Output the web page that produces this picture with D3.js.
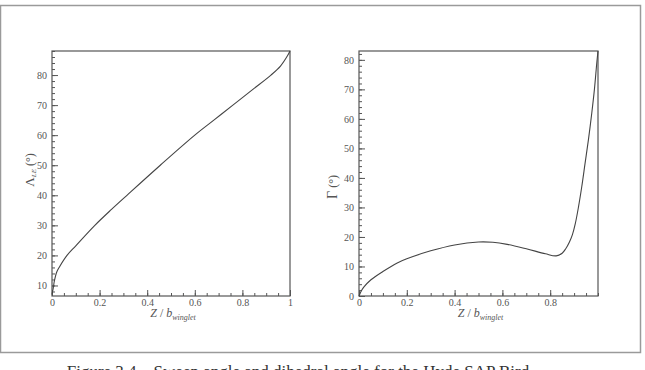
<!DOCTYPE html>
<html>
<head>
	<meta charset="utf-8">
	<title>Sweep and dihedral</title>
	<script src="https://cdn.jsdelivr.net/npm/d3@7"></script>
	<style>
		body { margin: 0; background: #fff; font-family: "Liberation Serif", "DejaVu Serif", serif; }
		svg text { font-family: "Liberation Serif", "DejaVu Serif", serif; }
	</style>
</head>
<body>
	<div id="chart"></div>
	<script>

		// data

		const sweepZ = [0, 0.005, 0.01, 0.02, 0.03, 0.063, 0.1, 0.18, 0.25, 0.315, 0.455, 0.6, 0.68, 0.76, 0.84, 0.92, 0.96, 0.99, 1];
		const sweepAngle = [7, 9, 11.5, 14.5, 16, 20, 23.2, 30, 35.3, 40, 50, 60, 65, 70, 75, 80, 83, 86.5, 88];

		const dihedralZ = [0, 0.01, 0.02, 0.05, 0.1, 0.16, 0.2, 0.3, 0.4, 0.5, 0.56, 0.62, 0.7, 0.78, 0.825, 0.85, 0.865, 0.88, 0.893, 0.905, 0.918, 0.932, 0.946, 0.96, 0.974, 0.985, 0.995, 1];
		const dihedralAngle = [0, 1.8, 3, 5.5, 8.3, 11.2, 12.6, 15.3, 17.3, 18.3, 18.2, 17.5, 16, 14.3, 13.6, 14.5, 16, 18.2, 20.8, 24.5, 30, 37, 45, 53, 62, 70, 79, 83];

		const sweepXTicks = [0, 0.2, 0.4, 0.6, 0.8, 1];
		const sweepYTicks = [10, 20, 30, 40, 50, 60, 70, 80];
		const dihedralXTicks = [0, 0.2, 0.4, 0.6, 0.8];
		const dihedralYTicks = [0, 10, 20, 30, 40, 50, 60, 70, 80];

		const caption = "Figure 3.4 – Sweep angle and dihedral angle for the Hyde SAP Bird";

		// layout

		const width = 645, height = 370;
		const ink = "#444", frameInk = "#555", labelInk = "#555";
		const serif = "'Liberation Serif', 'DejaVu Serif', serif";

		const svg = d3.select("#chart").append("svg")
			.attr("width", width)
			.attr("height", height);

		// outer frame
		svg.append("rect")
			.attr("x", 0.5).attr("y", 5.5)
			.attr("width", 640).attr("height", 347)
			.attr("fill", "none")
			.attr("stroke", "#9a9a9a")
			.attr("stroke-width", 1.5);

		function panel({ left, right, top, bottom, xDomain, yDomain, xTicks, yTicks, xs, ys, yLabel, yLabelX, yLabelY }) {
			const x = d3.scaleLinear(xDomain, [left, right]);
			const y = d3.scaleLinear(yDomain, [bottom, top]);
			const g = svg.append("g");

			// minor ticks
			const xMinor = d3.range(0, 1.0001, 0.05).filter(v => v >= xDomain[0] && v <= xDomain[1]);
			const yMinor = d3.range(0, 90, 2).filter(v => v >= yDomain[0] && v <= yDomain[1]);

			g.append("g")
				.attr("transform", `translate(0,${bottom})`)
				.call(d3.axisBottom(x).tickValues(xMinor).tickSize(-3).tickFormat(""))
				.call(a => a.select(".domain").remove())
				.call(a => a.selectAll("line").attr("stroke", frameInk));

			g.append("g")
				.attr("transform", `translate(${left},0)`)
				.call(d3.axisLeft(y).tickValues(yMinor).tickSize(-3).tickFormat(""))
				.call(a => a.select(".domain").remove())
				.call(a => a.selectAll("line").attr("stroke", frameInk));

			// major ticks
			g.append("g")
				.attr("transform", `translate(0,${bottom})`)
				.attr("font-family", serif)
				.attr("font-size", 10)
				.call(d3.axisBottom(x).tickValues(xTicks).tickSize(-6).tickPadding(3).tickFormat(d3.format("~g")))
				.call(a => a.select(".domain").remove())
				.call(a => a.selectAll("line").attr("stroke", frameInk))
				.call(a => a.selectAll("text").attr("fill", labelInk));

			g.append("g")
				.attr("transform", `translate(${left},0)`)
				.attr("font-family", serif)
				.attr("font-size", 10)
				.call(d3.axisLeft(y).tickValues(yTicks).tickSize(-6).tickPadding(5))
				.call(a => a.select(".domain").remove())
				.call(a => a.selectAll("line").attr("stroke", frameInk))
				.call(a => a.selectAll("text").attr("fill", labelInk));

			// frame
			g.append("rect")
				.attr("x", left).attr("y", top)
				.attr("width", right - left).attr("height", bottom - top)
				.attr("fill", "none")
				.attr("stroke", frameInk)
				.attr("stroke-width", 1.2);

			// curve
			const pts = xs.map((v, i) => [v, ys[i]]);
			g.append("path")
				.datum(pts)
				.attr("fill", "none")
				.attr("stroke", ink)
				.attr("stroke-width", 1.1)
				.attr("d", d3.line().x(d => x(d[0])).y(d => y(d[1])).curve(d3.curveCatmullRom.alpha(0.5)));

			// x label
			const xl = g.append("text")
				.attr("x", (left + right) / 2 + 2)
				.attr("y", bottom + 21)
				.attr("text-anchor", "middle")
				.attr("fill", labelInk)
				.style("font-size", "12px");
			xl.append("tspan").style("font-style", "italic").text("Z");
			xl.append("tspan").text(" / ");
			xl.append("tspan").style("font-style", "italic").text("b");
			xl.append("tspan").attr("dy", 3).style("font-size", "8px").style("font-style", "italic").text("winglet");

			// y label
			const yl = g.append("text")
				.attr("transform", `translate(${yLabelX},${yLabelY}) rotate(-90)`)
				.attr("text-anchor", "middle")
				.attr("fill", labelInk)
				.style("font-size", "12px");
			yLabel(yl);
		}

		panel({
			left: 52, right: 290, top: 51, bottom: 296,
			xDomain: [0, 1], yDomain: [6.5, 88],
			xTicks: sweepXTicks, yTicks: sweepYTicks,
			xs: sweepZ, ys: sweepAngle,
			yLabelX: 34, yLabelY: 170,
			yLabel: t => {
				t.append("tspan").style("font-size", "13px").text("Λ");
				t.append("tspan").attr("dy", 2).style("font-size", "7px").style("font-style", "italic").text("LE");
				t.append("tspan").attr("dy", -2).text(" (°)");
			}
		});

		panel({
			left: 359, right: 598, top: 51, bottom: 296,
			xDomain: [0, 1], yDomain: [0, 83],
			xTicks: dihedralXTicks, yTicks: dihedralYTicks,
			xs: dihedralZ, ys: dihedralAngle,
			yLabelX: 337, yLabelY: 187,
			yLabel: t => {
				t.append("tspan").style("font-size", "14px").text("Γ");
				t.append("tspan").text(" (°)");
			}
		});

		// caption, cut by the window's bottom edge as in the source figure
		svg.append("text")
			.attr("x", 298)
			.attr("y", 377)
			.attr("text-anchor", "middle")
			.attr("fill", "#333")
			.style("font-size", "17px")
			.text(caption);

	</script>
</body>
</html>
